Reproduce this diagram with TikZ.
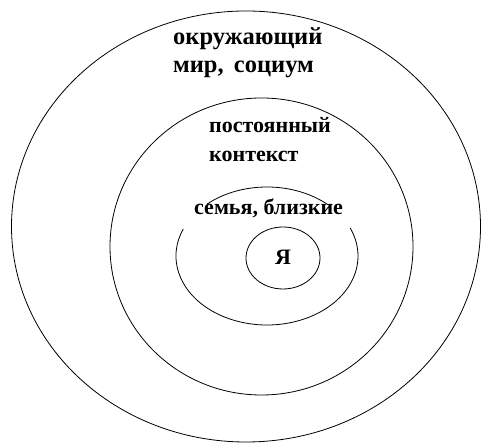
\documentclass[tikz,border=0pt]{standalone}
\usepackage{fontspec}
\setmainfont{Liberation Serif}
\begin{document}
\begin{tikzpicture}[x=1pt,y=1pt,
  ring/.style={draw=black,line width=0.8pt},
  lbl/.style={inner sep=0pt,font=\fontsize{22}{26}\selectfont\bfseries,anchor=base west},
  biglbl/.style={lbl,font=\fontsize{24.5}{29}\selectfont\bfseries}]
\useasboundingbox (0,0) rectangle (481,443);
\fill[white] (0,0) rectangle (481,443);
% outer
\draw[ring] (246,216.5) ellipse [x radius=234.5, y radius=215.5];
% middle
\draw[ring] (261.5,196.5) ellipse [x radius=151.5, y radius=148.5];
% family ring with gap for its label
\draw[ring] (267,187) ++(48:91 and 69) arc [start angle=48, end angle=131, x radius=91, y radius=69];
\draw[ring] (267,187) ++(157:91 and 69) arc [start angle=157, end angle=384, x radius=91, y radius=69];
% inner
\draw[ring] (283,185) ellipse [x radius=37, y radius=31];
% labels
\node[biglbl] (w1) at (173,398) {окружающий};
\node[biglbl] (w2) at (173,370) {мир,\, социум};
\node[lbl] (c1) at (209,310) {постоянный};
\node[lbl] (c2) at (209,281) {контекст};
\node[lbl] (f) at (194,228) {семья, близкие};
\node[inner sep=0pt,font=\fontsize{22}{26}\selectfont\bfseries,anchor=base] (me) at (283,178) {Я};
\end{tikzpicture}
\end{document}
